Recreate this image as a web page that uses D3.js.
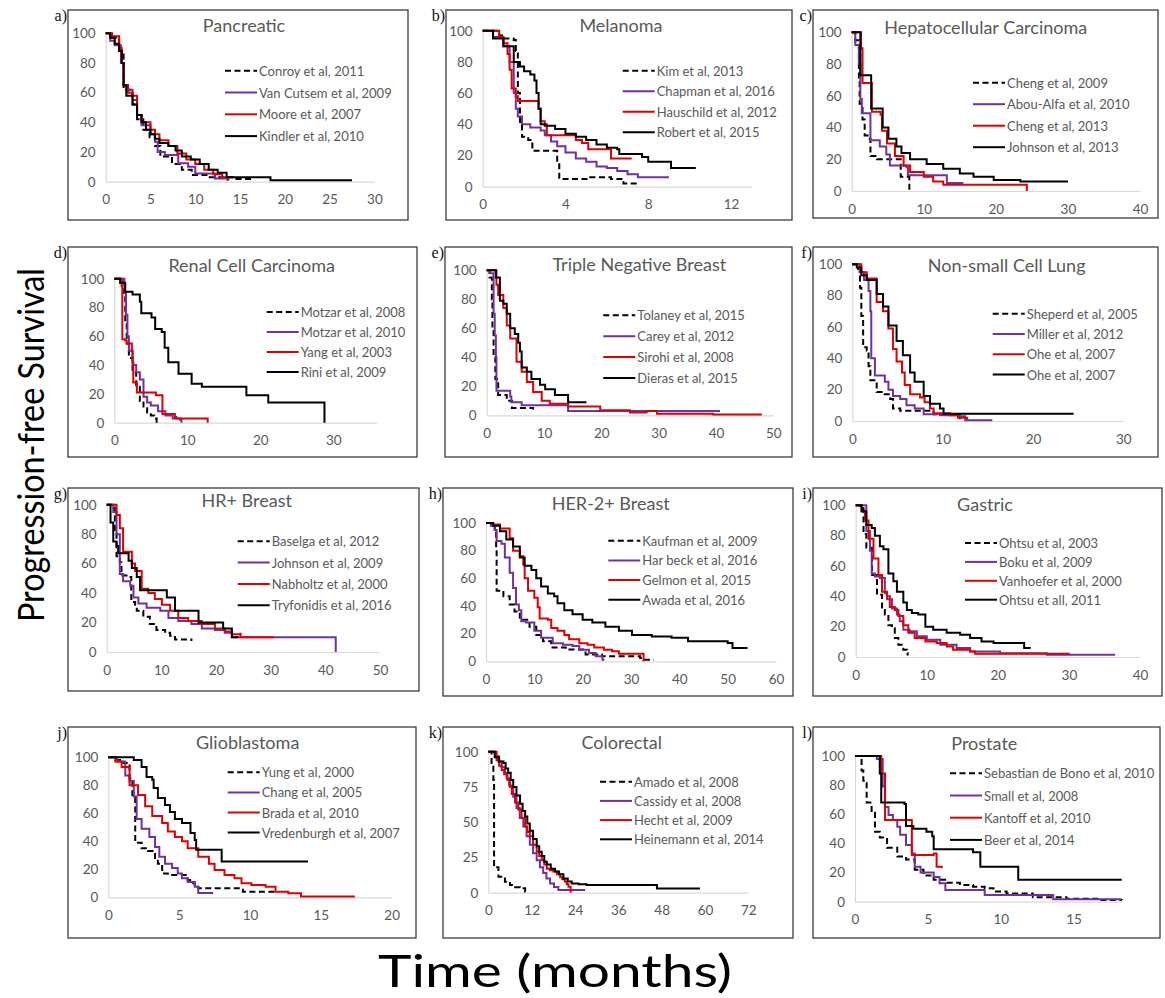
<!DOCTYPE html>
<html>
<head>
<meta charset="utf-8">
<script src="https://cdn.jsdelivr.net/npm/d3@7"></script>
<style>
  body { margin: 0; background: #fff; }
  svg { display: block; }
</style>
</head>
<body>
<svg id="chart" width="1165" height="998"></svg>
<script>
// ---- Panel text ----
const panelLetters = ["a)", "b)", "c)", "d)", "e)", "f)", "g)", "h)", "i)", "j)", "k)", "l)"];
const panelTitles = ["Pancreatic", "Melanoma", "Hepatocellular Carcinoma", "Renal Cell Carcinoma",
  "Triple Negative Breast", "Non-small Cell Lung", "HR+ Breast", "HER-2+ Breast",
  "Gastric", "Glioblastoma", "Colorectal", "Prostate"];
const studyLabels = [
  ["Conroy et al, 2011", "Van Cutsem et al, 2009", "Moore et al, 2007", "Kindler et al, 2010"],
  ["Kim et al, 2013", "Chapman et al, 2016", "Hauschild et al, 2012", "Robert et al, 2015"],
  ["Cheng et al, 2009", "Abou-Alfa et al, 2010", "Cheng et al, 2013", "Johnson et al, 2013"],
  ["Motzar et al, 2008", "Motzar et al, 2010", "Yang et al, 2003", "Rini et al, 2009"],
  ["Tolaney et al, 2015", "Carey et al, 2012", "Sirohi et al, 2008", "Dieras et al, 2015"],
  ["Sheperd et al, 2005", "Miller et al, 2012", "Ohe et al, 2007", "Ohe et al, 2007"],
  ["Baselga et al, 2012", "Johnson et al, 2009", "Nabholtz et al, 2000", "Tryfonidis et al, 2016"],
  ["Kaufman et al, 2009", "Har beck et al, 2016", "Gelmon et al, 2015", "Awada et al, 2016"],
  ["Ohtsu et al, 2003", "Boku et al, 2009", "Vanhoefer et al, 2000", "Ohtsu et all, 2011"],
  ["Yung et al, 2000", "Chang et al, 2005", "Brada et al, 2010", "Vredenburgh et al, 2007"],
  ["Amado et al, 2008", "Cassidy et al, 2008", "Hecht et al, 2009", "Heinemann et al, 2014"],
  ["Sebastian de Bono et al, 2010", "Small et al, 2008", "Kantoff et al, 2010", "Beer et al, 2014"]
];

// ---- Axis extents and ticks (months / % progression-free) ----
const xDomainMax = [30, 13, 40, 36, 50, 30, 50, 60, 40, 20, 72, 18.3];
const xTickValues = [
  [0, 5, 10, 15, 20, 25, 30], [0, 4, 8, 12], [0, 10, 20, 30, 40], [0, 10, 20, 30],
  [0, 10, 20, 30, 40, 50], [0, 10, 20, 30], [0, 10, 20, 30, 40, 50], [0, 10, 20, 30, 40, 50, 60],
  [0, 10, 20, 30, 40], [0, 5, 10, 15, 20], [0, 12, 24, 36, 48, 60, 72], [0, 5, 10, 15]
];
const yTicksPercent = [0, 20, 40, 60, 80, 100];
const yTicksQuarter = [0, 25, 50, 75, 100];

// ---- Progression-free survival curves: [month, percent] ----
// Order inside every panel: dashed black, purple, red, solid black
const pancreatic = [
  [[0,100],[0.5,97],[1.5,88],[2,62],[3,52],[3.5,42],[4.2,35],[4.9,30],[5.5,24],[6.1,17],[7.4,12],[8.5,8],[9.6,4.5],[11.5,3],[14.4,1.8],[16.5,1.8]],
  [[0,100],[0.5,95],[1,92],[1.7,80],[2,65],[2.5,62],[3,55],[3.5,45],[4,38],[5,32],[5.5,27],[5.8,20],[6.6,18],[8.1,12.4],[9.2,10],[10,5.6],[12.2,2.2],[13.6,0.5]],
  [[0,100],[0.7,98],[1.5,90],[1.8,80],[2,65],[2.5,60],[3,58],[3.5,45],[4,40],[5,35],[5.5,32],[6,28],[7,24],[8,19],[9,15],[10,12],[11,8],[12,5],[13,3],[13.7,1]],
  [[0,100],[0.5,97],[1,93],[1.5,88],[1.8,80],[2,65],[2.3,58],[3,52],[3.5,45],[4,40],[4.5,35],[5,32],[5.5,29],[6,26],[7,24],[7.8,21],[8.5,17],[9.5,15],[10.5,12],[11.5,8],[12.5,6],[13.5,3],[18.4,3],[18.4,1],[27.5,1]]
];
const melanoma = [
  [[0,100],[0.8,97],[1.0,95],[1.5,94],[1.6,87],[1.7,60],[1.8,40],[1.9,32],[2.2,30],[2.4,23],[3.5,23],[3.6,16],[3.7,5],[5,5],[5.2,6],[6.2,5],[6.8,2],[7.5,2]],
  [[0,100],[0.5,96],[1,90],[1.3,80],[1.5,60],[1.6,50],[1.7,45],[1.9,40],[2.3,38],[2.8,36],[3,33],[3.3,29],[3.6,26],[4,22],[4.5,18],[5,16],[5.5,13],[6,12],[6.5,10],[7,8],[7.5,6],[9,6]],
  [[0,100],[0.8,96],[1,92],[1.2,85],[1.3,75],[1.4,63],[1.6,58],[1.7,55],[2.6,55],[2.7,50],[2.8,42],[3,40],[3.1,33],[4.3,33],[4.5,30],[4.8,28],[5.1,24],[6.2,24],[6.2,18],[7.2,18]],
  [[0,100],[0.5,95],[1,90],[1.5,80],[1.8,77],[2,74],[2.3,72],[2.5,68],[2.6,60],[2.7,50],[2.8,40],[3,39],[3.5,37],[4,34],[4.5,32],[5,30],[5.5,27],[6,25],[6.5,24],[6.6,21],[7.5,21],[7.7,19],[8,16],[9,16],[9.1,12],[10.3,12]]
];
const hepatocellular = [
  [[0,100],[0.5,95],[1,70],[1.1,55],[1.5,45],[1.8,35],[2.5,33],[2.6,22],[3.5,20],[6.7,20],[6.8,9],[8,9],[8,0]],
  [[0,100],[0.5,92],[1,80],[1.2,58],[1.4,49],[2.5,49],[2.6,32],[3.9,28],[4.8,23],[5.3,16],[7.6,15],[7.8,10],[13.2,10],[13.2,5],[15.5,5]],
  [[0,100],[1.1,100],[1.3,90],[1.5,68],[2.5,68],[2.8,50],[4,48],[4.2,38],[4.9,30],[6,22],[7.2,16],[8.1,12],[10,9],[11.3,6],[12.7,4],[24.3,4],[24.3,0]],
  [[0,100],[1.15,100],[1.2,73],[2.5,73],[2.7,52],[4.2,52],[4.3,40],[5.1,33],[6.2,28],[6.9,24],[8.1,20],[10.4,17],[12.7,14],[15,11],[16.9,9],[19.7,7],[23.4,6],[30,6]]
];
const renalCell = [
  [[0,100],[1,98],[1.3,90],[1.5,70],[1.7,55],[2,45],[2.5,35],[3,25],[3.5,15],[4,10],[4.5,7],[5,5],[5.5,3],[5.8,0]],
  [[0,100],[1.2,100],[1.4,90],[1.6,75],[1.8,60],[2,50],[2.5,40],[3,35],[3.5,30],[4,18],[4.5,14],[5,12],[6,8],[7,5],[8,3],[9,2],[9.2,0]],
  [[0,100],[1,95],[1.1,58],[1.5,57],[1.7,55],[2.4,50],[2.5,42],[2.6,28],[3.1,21],[5.6,21],[5.7,19],[6.6,19],[6.6,6],[8.3,4],[8.5,3],[12.8,3],[12.8,0]],
  [[0,100],[0.8,97],[1.5,91],[2.5,89],[3.5,84],[3.7,76],[5.1,73],[5.6,65],[6.5,63],[6.9,52],[7.4,42],[8.8,34],[10.6,27],[12,25],[18.1,19],[21.1,14],[28.8,14],[28.8,0]]
];
const tripleNegative = [
  [[0,100],[0.5,95],[0.9,80],[1,60],[1.2,40],[1.5,25],[2,14],[3.5,10],[4.4,5],[8.1,4]],
  [[0,100],[0.5,98],[1.2,70],[1.4,55],[1.6,40],[1.7,17],[4.1,13],[4.3,9],[6.1,7],[14,7],[14.2,3],[40.7,3]],
  [[0,100],[1.2,100],[1.7,90],[2,83],[2.9,74],[3.5,62],[4.1,53],[5.2,37],[6.1,30],[7,23],[8.1,16],[9.6,10],[11,8],[14.2,6],[19.8,3.5],[25,2],[27.9,3],[29.7,1],[39.5,0.5],[48,0.5]],
  [[0,100],[1.45,100],[1.6,95],[2.3,79],[2.9,77],[3.5,70],[4.1,60],[4.9,56],[5.5,50],[5.8,44],[6.1,33],[7,30],[7.8,25],[9.3,21],[10.2,18],[11.9,14],[14.2,9],[17.4,9]]
];
const nonSmallCellLung = [
  [[0,100],[0.5,97],[0.85,85],[1,67],[1.2,47],[1.6,45],[1.8,35],[2,26],[2.7,18.5],[3.4,17],[4.2,14],[4.5,8],[5.3,6.5],[9,4.3],[11.9,4.3],[11.9,0]],
  [[0,100],[0.8,95],[1.3,90],[1.8,83],[2,70],[2.1,40],[2.5,29],[3.6,25],[4,20],[4.5,16],[5.3,14],[6,10],[6.9,8],[7.9,4.3],[9.7,3.6],[11.9,3],[12.5,0.4],[15.5,0.4]],
  [[0,100],[1,95],[1.6,91],[2.7,76],[3.4,70],[4,59],[4.5,46],[4.9,38],[5.5,31],[5.8,23],[6.4,17],[7.5,15],[8,12],[8.6,8],[9,5],[10.8,3.6],[11.7,2],[12.7,1]],
  [[0,100],[0.5,98],[1,93],[1.6,90],[2.7,81],[3.4,73],[4,61],[4.9,51],[5.6,42],[6.4,31],[6.9,25],[7.9,16],[8.6,11],[9.7,8],[10.1,4.7],[24.5,4.7]]
];
const hrPositiveBreast = [
  [[0,100],[1.2,98],[1.5,82],[1.8,65],[2.4,61],[2.7,52],[4,51],[4.5,34],[5.2,32],[5.5,28],[6.7,24],[7.9,19],[9.1,15],[10.7,13],[11.6,11],[12.5,8.5],[15.5,7.5]],
  [[0,100],[1.2,95],[1.8,80],[2.4,53],[3,48],[4.3,45],[4.9,37],[5.8,33],[7.3,30],[9.8,28],[11.3,23],[13.1,21],[15.5,19],[17.4,16],[19.8,15],[21.6,13],[22.9,10],[41.9,10],[41.9,0]],
  [[0,100],[0.9,100],[1.8,93],[2.4,84],[3,68],[4.6,60],[5.2,55],[6.4,43],[7.6,40],[8.8,36],[10.1,32],[11.6,28],[13.1,23],[14.9,21],[17.4,19],[19.8,16],[21.6,14],[22.9,12],[24.5,13],[24.5,10],[30.5,10]],
  [[0,100],[0.3,100],[0.7,88],[1.2,75],[1.8,72],[2.1,67],[4,62],[4.6,57],[5.5,51],[6.1,42],[11,37],[12.5,28],[16.8,20],[21.3,16],[22.9,10],[24.1,10]]
];
const her2PositiveBreast = [
  [[0,100],[1,98],[1.8,96],[2.1,82],[2.2,51],[3.6,47],[4.9,41],[5.9,36],[7,30],[9,25],[10.4,19],[11.8,14.5],[13.5,10],[16.5,8.5],[20.6,5],[24,3.6],[31.9,2.4],[32.6,1.2],[34.7,1.2]],
  [[0,100],[1,98],[1.8,95],[2.2,87],[3.2,85],[3.9,75],[4.9,64],[5.6,53],[6.2,41],[6.8,37],[7.3,29],[8.3,28],[10,22],[11.4,17],[13.8,13],[15.9,12],[17.9,11],[19.3,8.4],[21.3,6],[22.7,3.6],[24.1,1.2],[24.5,1.2]],
  [[0,100],[1.5,99],[2.9,96],[4.9,89],[5.6,80],[7,76],[7.7,70],[8,60],[8.7,51],[10,46],[10.7,39],[11.1,31],[12.8,30],[13.5,24],[14.8,22],[16.2,19],[17.2,16],[19.3,13],[21,12],[22.4,10],[24.4,8.4],[26.1,7.2],[27.5,5.5],[32.6,5.5],[32.6,0]],
  [[0,100],[0.8,100],[1.5,98],[2.9,94],[4.2,88],[5.6,83],[7,75],[8,69],[9.4,66],[10.4,60],[11.4,54],[12.8,49],[14.1,47],[14.8,42],[16.2,37],[17.9,34],[20,30],[22,28],[24.7,25],[27.5,22],[30.2,19],[34.3,18],[38.4,17],[41.8,14.5],[50,13.3],[51,9.6],[54.1,9.6]]
];
const gastric = [
  [[0,100],[0.6,98],[1.1,81],[1.5,72],[2.3,54],[3,41],[3.7,31],[4.1,28],[4.6,21],[5.1,19],[5.5,12.5],[6,8],[6.7,4.8],[7.2,2.6],[7.3,1]],
  [[0,100],[0.85,100],[1.5,83],[2,70],[2.25,55],[2.7,53],[3.4,52],[4.1,42],[4.4,38],[5.1,32],[5.8,28],[6.2,23.5],[6.7,18],[7.6,17],[8.6,13.6],[10,11.4],[11.9,8],[14.2,6],[16.1,3.7],[20.3,2.5],[26.9,1.5],[36.5,1.5]],
  [[0,100],[0.8,96],[1.3,90],[1.8,78],[2.5,65],[3.2,54],[3.7,43],[4.4,40],[4.8,33],[5.5,31],[6,27],[6.7,21],[7.4,16],[8.3,12.5],[9.8,10.3],[11.4,9.2],[12.8,7],[13.7,4.8],[16.1,3.7],[16.8,2.2],[30.1,2.2]],
  [[0,100],[0.4,100],[0.85,96],[1.5,87],[2.25,85],[2.7,80],[3.4,73],[3.9,71],[4.6,55],[5.3,50],[5.8,43],[6.7,36],[7.2,31],[7.9,29],[8.8,28],[9.8,20],[10.9,18],[12.8,16],[14.7,14.7],[16.1,12.5],[17.7,10.3],[19.4,9.2],[23.1,9.2],[23.7,6],[24.5,5.5]]
];
const glioblastoma = [
  [[0,100],[0.5,98],[1.06,96],[1.5,85],[1.7,71],[1.9,39],[2.35,35],[2.8,33],[3.3,28],[3.5,24],[3.8,17],[4.2,16],[5.5,16],[5.6,12.4],[6,10],[6.1,7.6],[6.35,6.4],[9.4,6.4],[9.5,4],[11.8,4]],
  [[0,100],[0.6,97],[1.2,87],[1.5,83],[1.8,72],[2,56],[2.35,49],[2.9,43],[3.3,36],[3.6,29],[4,24],[4.5,21],[4.9,17],[5.2,13.6],[5.6,11],[6.1,7.6],[6.35,3],[7.4,3]],
  [[0,100],[0.5,97],[0.94,93],[1.5,80],[2.1,73],[2.6,65],[3.1,58],[3.8,53],[4.2,47],[4.7,43],[5.2,40],[5.6,35],[6.35,29],[7.1,24],[7.5,19.5],[8.2,16],[8.9,13.6],[9.4,10],[10.1,8.8],[11.1,7.6],[11.8,4],[12.7,2.9],[13.6,0.5],[17.4,0.5]],
  [[0,100],[1.65,100],[1.8,98],[2.35,93],[2.7,86],[3.1,84],[3.2,78],[3.5,71],[4,66],[4.35,61],[4.7,56],[5.2,53],[5.8,46],[6.1,41],[6.2,34],[7.8,34],[8,25.5],[14.1,25.5]]
];
const colorectal = [
  [[0,100],[0.5,100],[0.9,92],[1.4,80],[1.6,18],[2.8,11.3],[4.6,7.8],[6,5.4],[6.9,3.8],[8.8,3.1],[10.2,0.7],[11,0.3]],
  [[0,100],[0.9,100],[1.8,97],[2.8,93],[3.7,89],[4.6,85],[5.3,80],[6,75],[6.9,68],[7.8,60],[8.7,53],[9.7,47],[10.6,40],[11.5,34],[12.4,28],[13.4,23],[14.3,18],[15.2,14],[16.1,10],[17.1,6.6],[18.2,4],[19.4,1.9],[26.8,1.9]],
  [[0,100],[1.4,100],[2.3,94],[3,90],[3.7,87],[4.4,84],[5.1,81],[5.8,76],[6.5,70],[7.4,64],[8.3,59],[9.2,53],[10.2,47],[10.8,43],[11.5,40],[12.4,34],[13.4,29],[14.1,26],[14.8,23],[15.5,20],[16.2,17],[17.1,16],[18,15],[19,13],[19.9,11],[20.5,9.5],[21.2,8],[21.7,6],[22.2,4.3],[22.8,0]],
  [[0,100],[1.8,96],[3,93],[4.2,92],[4.8,88],[5.5,85],[6.2,80],[6.9,75],[7.8,69],[8.8,63],[9.5,58],[10.2,54],[10.8,49],[11.5,44],[12.4,38],[13.4,33],[14.1,29],[14.8,26],[15.5,22],[16.2,20],[17.3,17],[18.5,15],[19.6,13],[20.8,10],[22,8],[23.1,6.6],[25,6],[27.2,5.4],[46.7,5.4],[46.7,3],[58.6,3]]
];
const prostate = [
  [[0,100],[0.34,98],[0.45,90],[0.57,83],[0.8,68],[1.14,61],[1.37,48],[1.7,44],[2.2,37],[2.9,31],[3.5,29],[4.1,22],[4.7,18],[5.4,15],[6.3,13],[7.2,11.4],[8.1,10.3],[8.9,9.2],[9.5,7],[10.4,5.7],[12.2,3],[14.5,2],[16.8,1.1],[18.3,1]],
  [[0,100],[1,100],[1.5,98],[1.9,79],[2.05,65],[2.3,59.5],[2.6,56],[2.9,51.5],[3.1,46],[3.5,39],[3.9,33],[4.1,24],[4.5,20],[5,20],[5.4,17],[5.8,12.6],[6.2,8],[8.7,8],[8.9,4.6],[13.4,4.6],[13.6,1.6],[18.3,1.6]],
  [[0,100],[1.5,100],[1.8,88],[2.06,56],[3.8,56],[3.9,32],[4.9,32],[5.4,33],[5.6,24],[5.95,23]],
  [[0,100],[1.5,100],[1.7,88],[1.8,68],[3.4,67],[3.5,52],[4,50],[4.9,48],[5.3,45],[5.4,36],[7.8,36],[8.1,34],[8.6,24],[11.2,24],[11.2,15],[18.3,15]]
];
const panelCurves = [pancreatic, melanoma, hepatocellular, renalCell, tripleNegative, nonSmallCellLung,
  hrPositiveBreast, her2PositiveBreast, gastric, glioblastoma, colorectal, prostate];

// ---- Page layout: frame box [x0,y0,x1,y1], plot area [left,right,top,bottom],
//      title centre, legend line start / first row / row step ----
const frames = [
  {box:[68,10,408,220],   plot:[105.7,374.4,33.3,181.7], title:[244,25],    legend:[225,70.7,21.8]},
  {box:[446,10,792,220],  plot:[482.7,751.7,30.7,186.7], title:[621,25],    legend:[622.7,70.7,20.5]},
  {box:[813,10,1158,218], plot:[851.7,1140,32.3,191],    title:[985.7,26.7],legend:[973,82.7,21.5]},
  {box:[68,247,417,457],  plot:[114.3,377,278.7,422.7],  title:[251.7,265.3],legend:[266.7,312,20]},
  {box:[445,247,792,457], plot:[486.7,773.3,270.3,415.3],title:[639.3,263.7],legend:[603.3,315.3,20.9]},
  {box:[813,247,1158,457],plot:[852.3,1123.3,264.3,421], title:[1006.7,265.3],legend:[992.7,313.7,20.3]},
  {box:[68,488,419,691],  plot:[106.7,380,504.7,652],    title:[246.7,499.7],legend:[237.7,541.3,21.3]},
  {box:[443,488,793,696], plot:[486,776,523,661.3],      title:[610.7,503],  legend:[608.3,540.7,19.7]},
  {box:[813,488,1162,696],plot:[855.7,1140,505.3,657],   title:[985,504],    legend:[965,543,18.9]},
  {box:[68,727,416,938],  plot:[108.3,391.7,757.3,897.3],title:[247.7,741.7],legend:[227.7,772.3,20.1]},
  {box:[443,727,793,938], plot:[488.3,748.3,751.7,892.7],title:[621.7,741.7],legend:[600,781.7,19.2]},
  {box:[813,727,1160,938],plot:[855,1121.7,756,901.7],   title:[984.3,743.3],legend:[950,773.3,22.2]}
];

const FONT = "Lato, 'Open Sans', 'DejaVu Sans', sans-serif";
const TEXT_GREY = "#595959";
const AXIS_GREY = "#d9d9d9";
const seriesStyle = [
  {stroke: "#000000", dash: "6,3.5"},
  {stroke: "#7030a0", dash: null},
  {stroke: "#e00000", dash: null},
  {stroke: "#000000", dash: null}
];

const svg = d3.select("#chart");
svg.append("rect").attr("width", 1165).attr("height", 998).attr("fill", "#fff");

frames.forEach((f, i) => {
  const g = svg.append("g").attr("class", "panel");

  // frame
  g.append("rect")
    .attr("x", f.box[0]).attr("y", f.box[1])
    .attr("width", f.box[2] - f.box[0]).attr("height", f.box[3] - f.box[1])
    .attr("fill", "none").attr("stroke", "#3c3c3c").attr("stroke-width", 1.3);

  // panel letter
  g.append("text")
    .attr("x", f.box[0] - 1).attr("y", f.box[1] + 11)
    .attr("text-anchor", "end")
    .attr("font-family", "'Liberation Serif', 'DejaVu Serif', serif")
    .attr("font-size", 16).attr("fill", "#111")
    .text(panelLetters[i]);

  const x = d3.scaleLinear().domain([0, xDomainMax[i]]).range([f.plot[0], f.plot[1]]);
  const y = d3.scaleLinear().domain([0, 100]).range([f.plot[3], f.plot[2]]);

  // axes
  const xAxis = g.append("g")
    .attr("transform", `translate(0,${f.plot[3]})`)
    .call(d3.axisBottom(x).tickValues(xTickValues[i]).tickSize(0).tickPadding(13).tickFormat(d3.format("d")));
  const yAxis = g.append("g")
    .attr("transform", `translate(${f.plot[0]},0)`)
    .call(d3.axisLeft(y).tickValues(i === 10 ? yTicksQuarter : yTicksPercent).tickSize(0).tickPadding(10).tickFormat(d3.format("d")));
  [xAxis, yAxis].forEach(a => {
    a.select(".domain").attr("stroke", AXIS_GREY).attr("stroke-width", 1.2);
    a.selectAll("text").attr("font-family", FONT).attr("font-size", 13.5).attr("fill", TEXT_GREY);
  });

  // title
  g.append("text")
    .attr("x", f.title[0]).attr("y", f.title[1])
    .attr("text-anchor", "middle").attr("dominant-baseline", "central")
    .attr("font-family", FONT).attr("font-size", 18).attr("fill", TEXT_GREY)
    .text(panelTitles[i]);

  // survival curves
  const line = d3.line()
    .x(d => x(d[0]))
    .y(d => y(d[1]))
    .curve(d3.curveStepAfter);
  panelCurves[i].forEach((curve, k) => {
    g.append("path")
      .datum(curve)
      .attr("d", line)
      .attr("fill", "none")
      .attr("stroke", seriesStyle[k].stroke)
      .attr("stroke-width", 2)
      .attr("stroke-dasharray", seriesStyle[k].dash)
      .attr("stroke-linejoin", "miter");
  });

  // legend
  studyLabels[i].forEach((label, k) => {
    const ly = f.legend[1] + k * f.legend[2];
    g.append("line")
      .attr("x1", f.legend[0]).attr("x2", f.legend[0] + 32)
      .attr("y1", ly).attr("y2", ly)
      .attr("stroke", seriesStyle[k].stroke).attr("stroke-width", 2)
      .attr("stroke-dasharray", seriesStyle[k].dash);
    g.append("text")
      .attr("x", f.legend[0] + 34).attr("y", ly)
      .attr("dominant-baseline", "central")
      .attr("font-family", FONT).attr("font-size", 13).attr("fill", TEXT_GREY)
      .text(label);
  });
});

// shared axis titles
svg.append("text")
  .attr("transform", "translate(30,445) rotate(-90)")
  .attr("text-anchor", "middle").attr("dominant-baseline", "central")
  .attr("font-family", FONT).attr("font-size", 36).attr("fill", "#000")
  .attr("textLength", 354).attr("lengthAdjust", "spacingAndGlyphs")
  .text("Progression-free Survival");
svg.append("text")
  .attr("x", 555).attr("y", 970)
  .attr("text-anchor", "middle").attr("dominant-baseline", "central")
  .attr("font-family", FONT).attr("font-size", 44).attr("fill", "#000")
  .attr("textLength", 354).attr("lengthAdjust", "spacingAndGlyphs")
  .text("Time (months)");
</script>
</body>
</html>
